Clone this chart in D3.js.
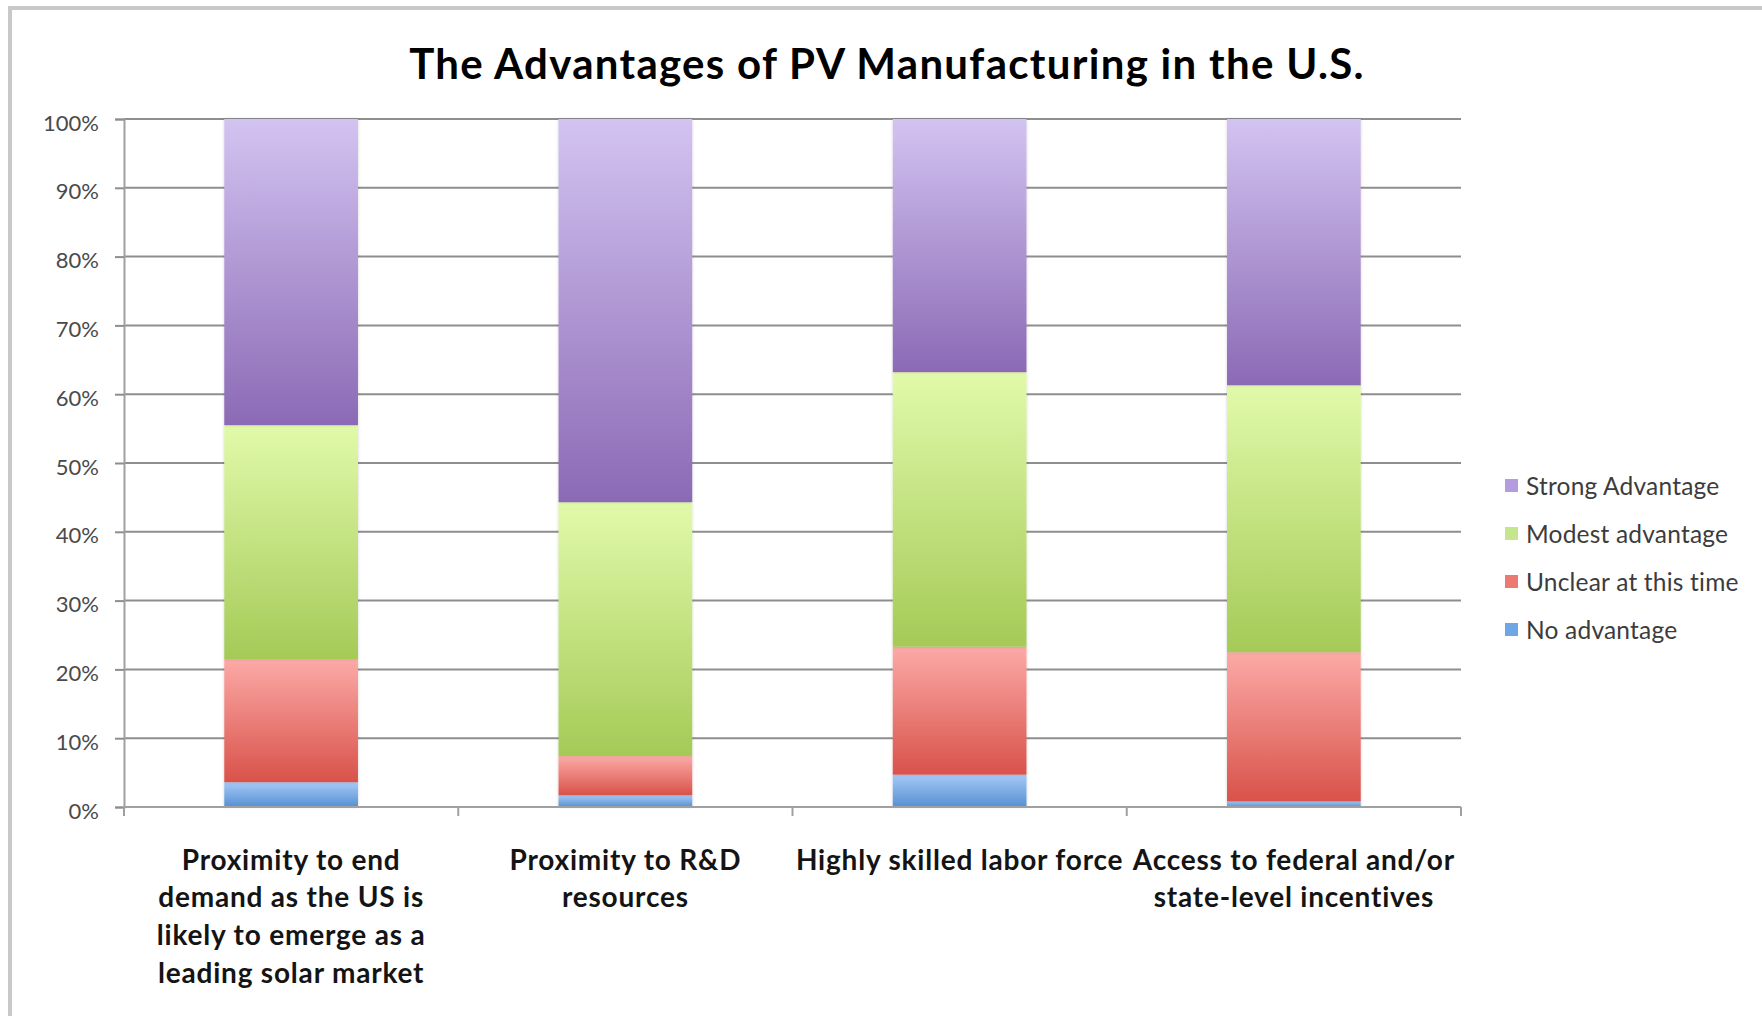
<!DOCTYPE html>
<html>
<head>
<meta charset="utf-8">
<script src="https://cdn.jsdelivr.net/npm/d3@7"></script>
<style>
  html, body { margin: 0; padding: 0; background: #fff; }
  svg { display: block; font-family: Lato, Carlito, Calibri, sans-serif; }
</style>
</head>
<body>
<svg id="chart" width="1762" height="1016"></svg>
<script>
// Datos del gráfico (porcentaje de respuestas)
const categories = [
  ["Proximity to end", "demand as the US is", "likely to emerge as a", "leading solar market"],
  ["Proximity to R&D", "resources"],
  ["Highly skilled labor force"],
  ["Access to federal and/or", "state-level incentives"]
];
const seriesNames = ["No advantage", "Unclear at this time", "Modest advantage", "Strong Advantage"];
const noAdvantage = [3.6, 1.7, 4.7, 0.8];
const unclear     = [17.9, 5.7, 18.6, 21.7];
const modest      = [34.0, 36.9, 39.9, 38.8];
const strong      = [44.5, 55.7, 36.8, 38.7];
const yTicks = [0, 10, 20, 30, 40, 50, 60, 70, 80, 90, 100];
const title = "The Advantages of PV Manufacturing in the U.S.";

// Colores (arriba claro, abajo oscuro)
const seriesColors = {
  "No advantage":         { top: "#a6c9f6", bottom: "#5590d3", flat: "#6fa6e6" },
  "Unclear at this time": { top: "#fcaaa7", bottom: "#d8524a", flat: "#ec7a73" },
  "Modest advantage":     { top: "#e1faaa", bottom: "#a5ca57", flat: "#c4e68c" },
  "Strong Advantage":     { top: "#d3c3f1", bottom: "#8b6ab5", flat: "#b39ddf" }
};

const svg = d3.select("#chart");
const plot = { left: 124, right: 1461, top: 119, bottom: 807 };

// Marco exterior
svg.append("rect")
  .attr("x", 10).attr("y", 8)
  .attr("width", 1800).attr("height", 1100)
  .attr("fill", "#fff")
  .attr("stroke", "#c9c9c9")
  .attr("stroke-width", 4);

// Degradados por serie
const defs = svg.append("defs");
seriesNames.forEach((name, i) => {
  const g = defs.append("linearGradient")
    .attr("id", "grad" + i)
    .attr("x1", 0).attr("y1", 0).attr("x2", 0).attr("y2", 1);
  g.append("stop").attr("offset", "0%").attr("stop-color", seriesColors[name].top);
  g.append("stop").attr("offset", "100%").attr("stop-color", seriesColors[name].bottom);
});
const shadow = defs.append("filter").attr("id", "shadow")
  .attr("x", "-10%").attr("y", "-10%").attr("width", "120%").attr("height", "120%");
shadow.append("feDropShadow")
  .attr("dx", 0).attr("dy", 0).attr("stdDeviation", 1.5)
  .attr("flood-color", "#000").attr("flood-opacity", 0.18);

// Escalas
const x = d3.scaleBand()
  .domain(d3.range(categories.length))
  .range([plot.left, plot.right])
  .paddingInner(0.6)
  .paddingOuter(0.3);
const xStep = x.step();

const y = d3.scaleLinear()
  .domain([0, 100])
  .range([plot.bottom, plot.top]);

// Líneas de cuadrícula
svg.append("g")
  .selectAll("line")
  .data(yTicks.filter(t => t > 0))
  .enter().append("line")
  .attr("x1", plot.left).attr("x2", plot.right)
  .attr("y1", d => y(d)).attr("y2", d => y(d))
  .attr("stroke", "#8e8e8e")
  .attr("stroke-width", 2);

// Eje Y
const yAxis = svg.append("g")
  .attr("transform", `translate(${plot.left},0)`)
  .call(d3.axisLeft(y)
    .tickValues(yTicks)
    .tickFormat(d => d + "%")
    .tickSize(9)
    .tickPadding(16));
yAxis.select(".domain").attr("stroke", "#a0a0a0").attr("stroke-width", 2);
yAxis.selectAll(".tick line").attr("stroke", "#8e8e8e").attr("stroke-width", 2);
yAxis.selectAll(".tick text")
  .attr("font-family", "Lato, Carlito, Calibri, sans-serif")
  .attr("font-size", 22)
  .attr("fill", "#4a4a4a")
  .attr("dy", "0.5em");

// Datos apilados
const table = categories.map((c, i) => ({
  "No advantage": noAdvantage[i],
  "Unclear at this time": unclear[i],
  "Modest advantage": modest[i],
  "Strong Advantage": strong[i],
  idx: i
}));
const stacked = d3.stack().keys(seriesNames)(table);

// Barras
svg.append("g")
  .selectAll("g")
  .data(stacked)
  .enter().append("g")
  .attr("fill", (d, i) => `url(#grad${i})`)
  .selectAll("rect")
  .data(d => d)
  .enter().append("rect")
  .attr("x", d => x(d.data.idx))
  .attr("width", x.bandwidth())
  .attr("y", d => y(d[1]))
  .attr("height", d => y(d[0]) - y(d[1]))
  .attr("filter", "url(#shadow)");

// Eje X (marcas entre categorías)
svg.append("line")
  .attr("x1", plot.left).attr("x2", plot.right)
  .attr("y1", plot.bottom).attr("y2", plot.bottom)
  .attr("stroke", "#a0a0a0").attr("stroke-width", 2);
svg.append("g")
  .selectAll("line")
  .data(d3.range(categories.length + 1))
  .enter().append("line")
  .attr("x1", d => plot.left + d * xStep).attr("x2", d => plot.left + d * xStep)
  .attr("y1", plot.bottom).attr("y2", plot.bottom + 9)
  .attr("stroke", "#a0a0a0").attr("stroke-width", 2);

// Etiquetas de categorías
const catLabels = svg.append("g")
  .selectAll("text")
  .data(categories)
  .enter().append("text")
  .attr("x", (d, i) => x(i) + x.bandwidth() / 2)
  .attr("y", 860)
  .attr("text-anchor", "middle")
  .attr("font-size", 28)
  .attr("letter-spacing", 0.8)
  .attr("font-weight", "bold")
  .attr("fill", "#141414");
catLabels.selectAll("tspan")
  .data(d => d)
  .enter().append("tspan")
  .attr("x", function () { return this.parentNode.getAttribute("x"); })
  .attr("dy", (d, i) => i === 0 ? "0.35em" : 37.6)
  .text(d => d);

// Título
svg.append("text")
  .attr("x", 887)
  .attr("y", 64)
  .attr("dy", "0.35em")
  .attr("text-anchor", "middle")
  .attr("font-size", 42)
  .attr("letter-spacing", 1.3)
  .attr("font-weight", "bold")
  .attr("fill", "#000")
  .text(title);

// Leyenda
const legendOrder = seriesNames.slice().reverse();
const legend = svg.append("g")
  .selectAll("g")
  .data(legendOrder)
  .enter().append("g")
  .attr("transform", (d, i) => `translate(1505, ${486 + i * 48})`);
legend.append("rect")
  .attr("x", 0).attr("y", -7)
  .attr("width", 13).attr("height", 13)
  .attr("fill", d => seriesColors[d].flat);
legend.append("text")
  .attr("x", 21)
  .attr("dy", "0.35em")
  .attr("font-size", 24.5)
  .attr("letter-spacing", 0.2)
  .attr("fill", "#3c3c3c")
  .text(d => d);
</script>
</body>
</html>
